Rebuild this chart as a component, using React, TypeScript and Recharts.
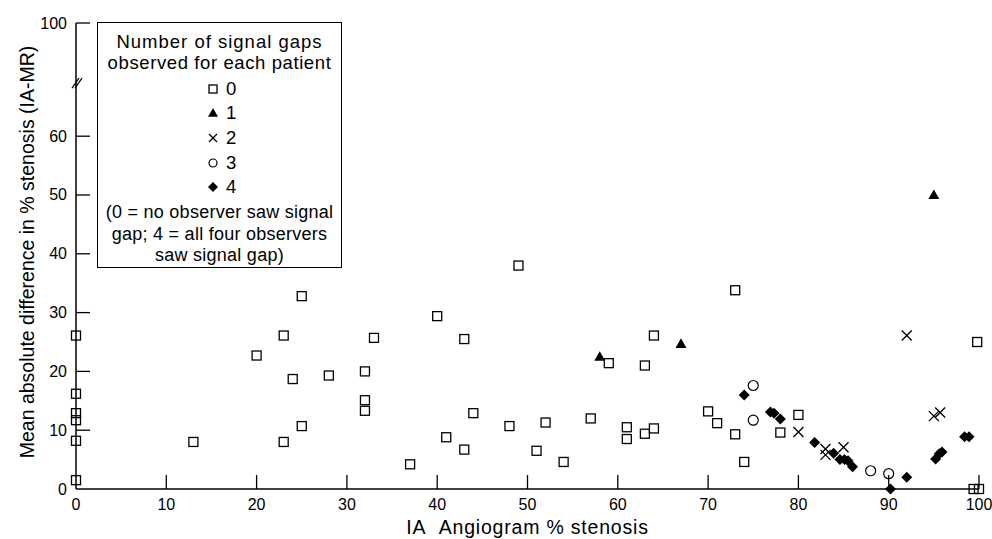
import React from "react";
import { ScatterChart, Scatter, XAxis, YAxis, Legend } from "recharts";

// [IA angiogram % stenosis, mean absolute difference (IA-MR)] per signal-gap group
const gap0 = [
  [0, 26.1], [0, 16.2], [0, 12.9], [0, 11.7], [0, 8.2], [0, 1.5],
  [13, 8.0], [20, 22.7], [23, 26.1], [23, 8.0], [24, 18.7], [25, 32.8],
  [25, 10.7], [28, 19.3], [32, 20.0], [32, 15.1], [32, 13.3], [33, 25.7],
  [37, 4.2], [40, 29.4], [41, 8.8], [43, 25.5], [43, 6.7], [44, 12.9],
  [48, 10.7], [49, 38.0], [51, 6.5], [52, 11.3], [54, 4.6], [57, 12.0],
  [59, 21.4], [61, 10.5], [61, 8.5], [63, 21.0], [63, 9.4], [64, 26.1],
  [64, 10.3], [70, 13.2], [71, 11.2], [73, 33.8], [73, 9.3], [74, 4.6],
  [78, 9.6], [80, 12.6], [99.8, 25.0], [99.4, 0], [100, 0],
];
const gap1 = [[58, 22.5], [67, 24.7], [95, 50.0]];
const gap2 = [
  [80, 9.7], [83, 6.8], [83, 5.8], [85, 7.1], [92, 26.1], [95, 12.4], [95.7, 13.0],
];
const gap3 = [[75, 17.6], [75, 11.7], [88, 3.1], [90, 2.6]];
const gap4 = [
  [74, 16.0], [76.9, 13.1], [77.3, 12.9], [78, 11.9], [81.8, 7.9], [83.9, 6.1],
  [84.6, 5.0], [85.1, 5.0], [85.5, 4.8], [86, 3.8], [90.2, 0], [92, 2.0],
  [95.2, 5.1], [95.6, 6.0], [95.9, 6.3], [98.4, 8.9], [98.9, 8.9],
];

const xTicks = [0, 10, 20, 30, 40, 50, 60, 70, 80, 90, 100];
// y axis is broken above 60; the top tick stands for 100
const Y_BREAK = 69.2;
const Y_TOP = 79.25;
const yTicks = [0, 10, 20, 30, 40, 50, 60, Y_BREAK, Y_TOP];
const yTopLabel = "100";

const legendTitle = ["Number of signal gaps", "observed for each patient"];
const legendNote = [
  "(0 = no observer saw signal",
  "gap; 4 = all four observers",
  "saw signal gap)",
];

const FONT = '"Liberation Sans", Arial, Helvetica, sans-serif';
const Y_TICK_MARGIN = 9;
const X_TICK_MARGIN = 10;

const toPoints = (arr: number[][]) => arr.map(([x, y]) => ({ x, y }));

const Square = ({ cx, cy, size = 9 }: any) => (
  <rect x={cx - size / 2} y={cy - size / 2} width={size} height={size} fill="none" stroke="#000" strokeWidth={1.3} />
);
const Triangle = ({ cx, cy, size = 11 }: any) => {
  const h = size / 2;
  return <polygon points={`${cx},${cy - h} ${cx - h},${cy + h * 0.75} ${cx + h},${cy + h * 0.75}`} fill="#000" />;
};
const Cross = ({ cx, cy, size = 10 }: any) => {
  const h = size / 2;
  return (
    <g stroke="#000" strokeWidth={1.3}>
      <line x1={cx - h} y1={cy - h} x2={cx + h} y2={cy + h} />
      <line x1={cx - h} y1={cy + h} x2={cx + h} y2={cy - h} />
    </g>
  );
};
const Ring = ({ cx, cy, size = 10 }: any) => (
  <circle cx={cx} cy={cy} r={size / 2} fill="none" stroke="#000" strokeWidth={1.2} />
);
const Diamond = ({ cx, cy, size = 11 }: any) => {
  const h = size / 2;
  return <polygon points={`${cx},${cy - h} ${cx + h},${cy} ${cx},${cy + h} ${cx - h},${cy}`} fill="#000" />;
};

const legendRows = [
  { label: "0", shape: Square, size: 8 },
  { label: "1", shape: Triangle, size: 10 },
  { label: "2", shape: Cross, size: 8 },
  { label: "3", shape: Ring, size: 8 },
  { label: "4", shape: Diamond, size: 10 },
];

function YTick(props: any) {
  const { x, y, payload } = props;
  const axisX = x + Y_TICK_MARGIN;
  const v = payload.value;
  if (v === Y_BREAK) {
    return (
      <g stroke="#000" strokeWidth={1.2}>
        <line x1={axisX - 4} y1={y + 6} x2={axisX + 3} y2={y - 4} />
        <line x1={axisX - 1} y1={y + 6} x2={axisX + 6} y2={y - 4} />
      </g>
    );
  }
  return (
    <g>
      {v !== 0 && <line x1={axisX} x2={axisX + 14} y1={y} y2={y} stroke="#000" strokeWidth={1.3} />}
      <text x={x} y={y} textAnchor="end" dominantBaseline="central" fontSize={16} fontFamily={FONT} fill="#000">
        {v === Y_TOP ? yTopLabel : v}
      </text>
    </g>
  );
}

function XTick(props: any) {
  const { x, y, payload } = props;
  const axisY = y - X_TICK_MARGIN;
  return (
    <g>
      {payload.value !== 0 && <line x1={x} x2={x} y1={axisY} y2={axisY - 14} stroke="#000" strokeWidth={1.3} />}
      <text x={x} y={y} dy="0.71em" textAnchor="middle" fontSize={16} fontFamily={FONT} fill="#000">
        {payload.value}
      </text>
    </g>
  );
}

function LegendBox() {
  const line = (text: string, center: number, size: number, spacing: number) => (
    <div
      key={text}
      style={{
        position: "absolute",
        left: 0,
        right: 0,
        top: center - 11,
        lineHeight: "22px",
        textAlign: "center",
        whiteSpace: "nowrap",
        fontSize: size,
        letterSpacing: spacing,
      }}
    >
      {text}
    </div>
  );
  const rowCenters = [66, 89.5, 114.5, 139.5, 163.5];
  return (
    <div
      style={{
        position: "relative",
        width: 245,
        height: 246,
        boxSizing: "border-box",
        border: "1.5px solid #000",
        background: "#fff",
        fontFamily: FONT,
        fontSize: 18.5,
        letterSpacing: 1,
        color: "#000",
      }}
    >
      {line(legendTitle[0], 19, 18.5, 1)}
      {line(legendTitle[1], 40, 18.5, 0.6)}
      {legendRows.map((r, i) => {
        const Shape = r.shape;
        return (
          <div key={r.label} style={{ position: "absolute", left: 108, top: rowCenters[i] - 11, height: 22, display: "flex", alignItems: "center" }}>
            <svg width={14} height={14} style={{ display: "block" }}>
              <Shape cx={7} cy={7} size={r.size} />
            </svg>
            <span style={{ marginLeft: 6, lineHeight: "22px" }}>{r.label}</span>
          </div>
        );
      })}
      {line(legendNote[0], 188.5, 18, 0.25)}
      {line(legendNote[1], 210.5, 18, 0.25)}
      {line(legendNote[2], 231.5, 18, 0.25)}
    </div>
  );
}

export default function App() {
  return (
    <div style={{ position: "fixed", left: 0, top: 0, width: 992, height: 539, overflow: "hidden", background: "#fff" }}>
      <ScatterChart width={992} height={539} margin={{ top: 23, right: 13, left: 16, bottom: 0 }}>
        <XAxis
          type="number"
          dataKey="x"
          domain={[0, 100]}
          ticks={xTicks}
          tickSize={0}
          tickMargin={X_TICK_MARGIN}
          tickLine={false}
          axisLine={{ stroke: "#000", strokeWidth: 1.5 }}
          tick={<XTick />}
          height={50}
          label={({ viewBox }: any) => (
            <text
              x={viewBox.x + viewBox.width / 2}
              y={534}
              textAnchor="middle"
              fontSize={19.5}
              letterSpacing={0.8}
              fontFamily={FONT}
              fill="#000"
            >
              IA{"\u00a0\u00a0"}Angiogram % stenosis
            </text>
          )}
        />
        <YAxis
          type="number"
          dataKey="y"
          domain={[0, Y_TOP]}
          ticks={yTicks}
          tickSize={0}
          tickMargin={Y_TICK_MARGIN}
          tickLine={false}
          axisLine={{ stroke: "#000", strokeWidth: 1.5 }}
          tick={<YTick />}
          width={60}
          label={() => (
            <text
              x={27}
              y={252}
              transform="rotate(-90, 27, 252)"
              textAnchor="middle"
              dominantBaseline="central"
              fontSize={19.5}
              fontFamily={FONT}
              fill="#000"
            >
              Mean absolute difference in % stenosis (IA-MR)
            </text>
          )}
        />
        <Legend
          layout="horizontal"
          verticalAlign="middle"
          align="center"
          content={() => <LegendBox />}
          wrapperStyle={{ left: 97, top: 22, width: 245, height: 246 }}
        />
        <Scatter name="0" data={toPoints(gap0)} shape={(p: any) => <Square cx={p.cx} cy={p.cy} />} isAnimationActive={false} />
        <Scatter name="1" data={toPoints(gap1)} shape={(p: any) => <Triangle cx={p.cx} cy={p.cy} />} isAnimationActive={false} />
        <Scatter name="2" data={toPoints(gap2)} shape={(p: any) => <Cross cx={p.cx} cy={p.cy} />} isAnimationActive={false} />
        <Scatter name="3" data={toPoints(gap3)} shape={(p: any) => <Ring cx={p.cx} cy={p.cy} />} isAnimationActive={false} />
        <Scatter name="4" data={toPoints(gap4)} shape={(p: any) => <Diamond cx={p.cx} cy={p.cy} />} isAnimationActive={false} />
      </ScatterChart>
    </div>
  );
}
